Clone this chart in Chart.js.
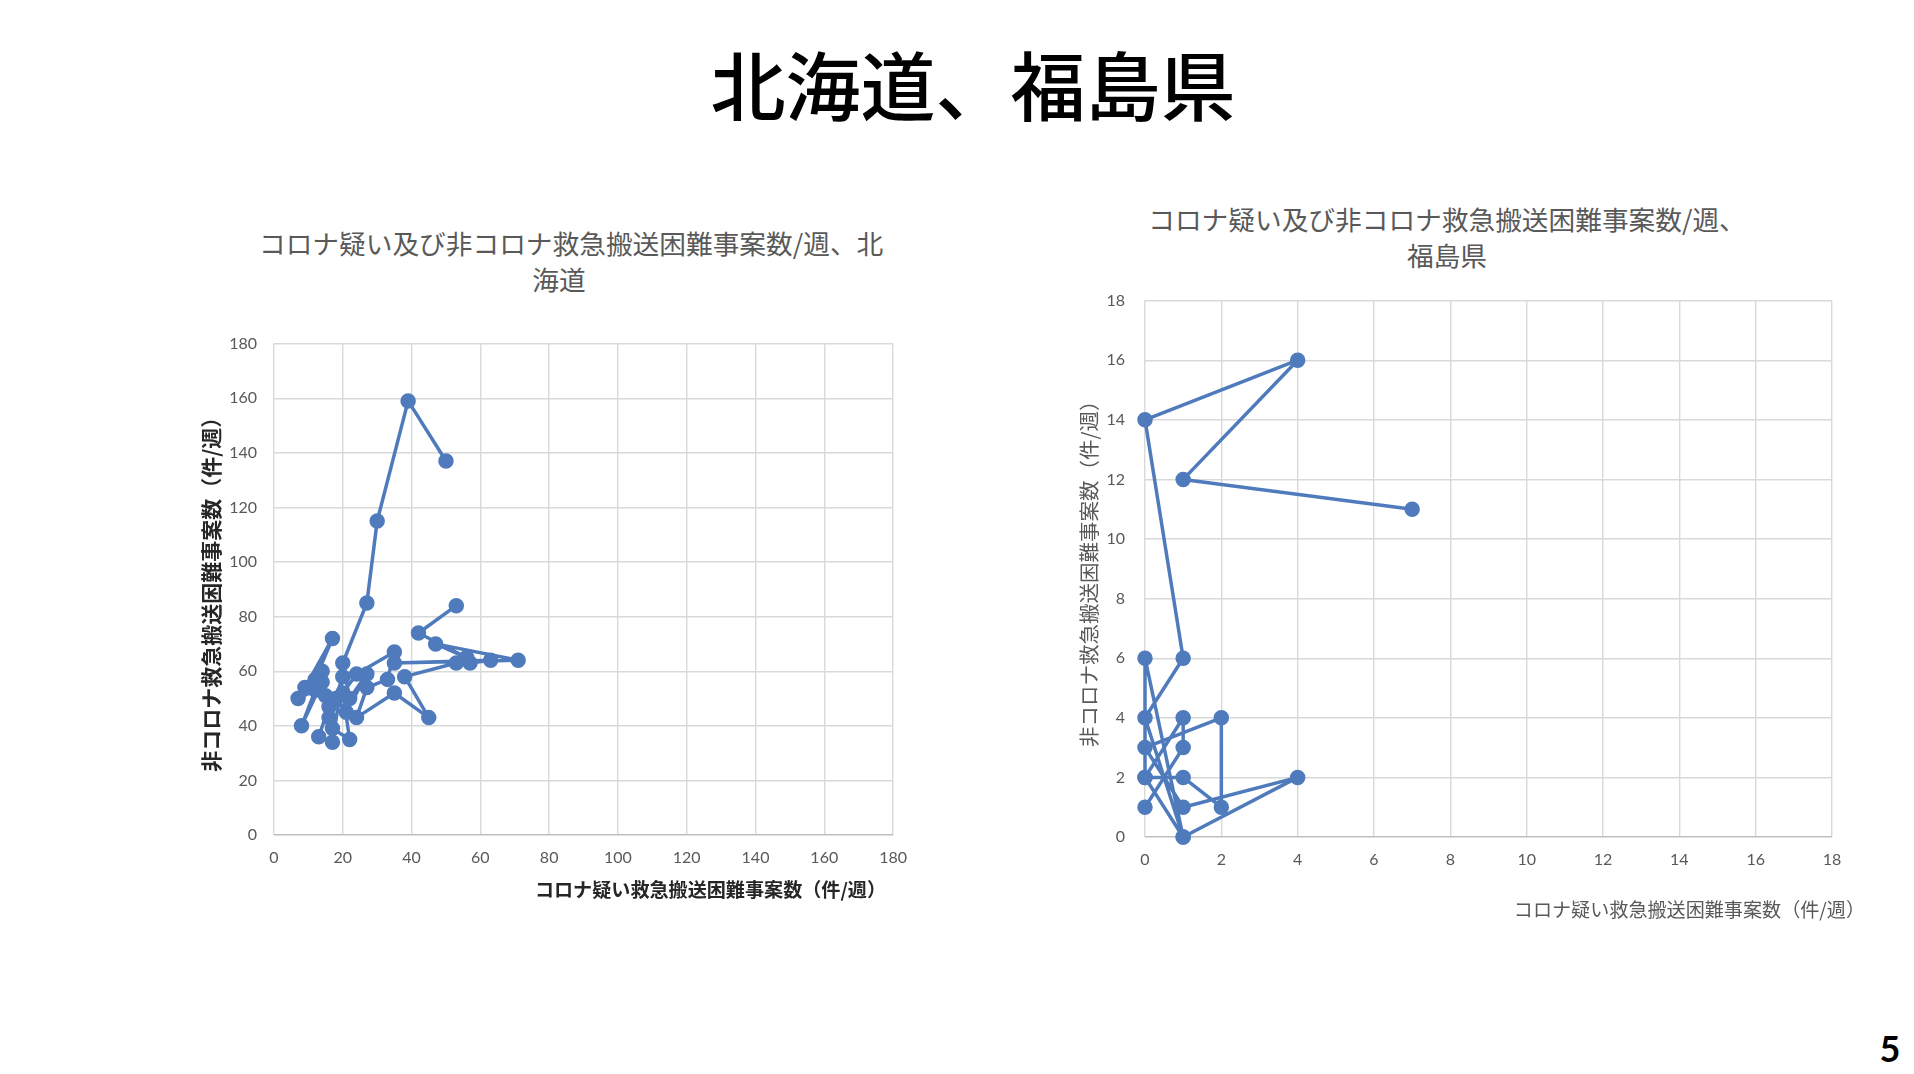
<!DOCTYPE html>
<html lang="ja">
<head>
<meta charset="utf-8">
<title>北海道、福島県</title>
<script src="https://cdn.jsdelivr.net/npm/chart.js@4.4.1/dist/chart.umd.min.js"></script>
<style>
  html, body { margin: 0; padding: 0; background: #fff; }
  body { width: 1914px; height: 1074px; position: relative; overflow: hidden;
         font-family: "Noto Sans CJK JP", "Noto Sans", sans-serif; }
  .abs { position: absolute; white-space: nowrap; }
  #pageTitle { left: 0; width: 1946px; top: 42px; text-align: center; font-size: 75px;
               line-height: 82px; font-weight: 500; color: #000; }
  .chartTitle { font-size: 26.7px; line-height: 36px; color: #595959; text-align: center; }
  #t1 { left: 259px; width: 600px; top: 225px; }
  #t2 { left: 1147px; width: 600px; top: 201px; }
  #xt1 { left: 0; width: 886px; top: 877px; text-align: right; font-size: 19.1px;
         line-height: 24px; font-weight: 700; color: #262626; }
  #xt2 { left: 0; width: 1865px; top: 897px; text-align: right; font-size: 19.1px;
         line-height: 24px; color: #595959; }
  #pageNo { left: 1868px; width: 44px; top: 1026px; text-align: center; font-family: Lato, "Noto Sans", sans-serif;
            font-size: 36px; line-height: 44px; font-weight: 700; color: #000; }
  .box { position: absolute; }
  #box1 { left: 150px; top: 317px; width: 770px; height: 573px; }
  #box2 { left: 1038px; top: 271px; width: 817px; height: 619px; }
</style>
</head>
<body>
<div id="pageTitle" class="abs">北海道、福島県</div>
<div id="t1" class="abs chartTitle">コロナ疑い及び非コロナ救急搬送困難事案数/週、北<br>海道</div>
<div id="t2" class="abs chartTitle">コロナ疑い及び非コロナ救急搬送困難事案数/週、<br>福島県</div>
<div class="box" id="box1"><canvas id="c1"></canvas></div>
<div class="box" id="box2"><canvas id="c2"></canvas></div>
<div id="xt1" class="abs">コロナ疑い救急搬送困難事案数（件/週）</div>
<div id="xt2" class="abs">コロナ疑い救急搬送困難事案数（件/週）</div>
<div id="pageNo" class="abs">5</div>

<script>
// 北海道: x = コロナ疑い, y = 非コロナ (件/週)
const hokkaidoX = [53, 42, 56, 47, 71, 35, 63, 57, 53, 38, 45, 35, 24, 27, 33, 35, 24, 20, 22, 17,
                   16, 20, 17, 13, 16, 14, 8, 12, 7, 9, 17, 12, 14, 15, 18, 21, 27, 22, 20, 27,
                   30, 39, 50];
const hokkaidoY = [84, 74, 65, 70, 64, 63, 64, 63, 63, 58, 43, 52, 43, 54, 57, 67, 59, 52, 35, 39,
                   43, 58, 34, 36, 47, 56, 40, 53, 50, 54, 72, 57, 60, 51, 50, 45, 59, 50, 63, 85,
                   115, 159, 137];

// 福島県
const fukushimaX = [0, 1, 1, 0, 1, 2, 2, 0, 1, 4, 1, 0, 0, 1, 0, 1, 0, 4, 1, 7];
const fukushimaY = [1, 3, 4, 2, 2, 1, 4, 3, 1, 2, 0, 2, 6, 0, 4, 6, 14, 16, 12, 11];

const hokkaidoTicks = [0, 20, 40, 60, 80, 100, 120, 140, 160, 180];
const fukushimaTicks = [0, 2, 4, 6, 8, 10, 12, 14, 16, 18];

const yTitle = '非コロナ救急搬送困難事案数（件/週）';
const lineBlue = '#4f7bbd';
const gridGrey = '#d9d9d9';
const tickGrey = '#595959';

function toPoints(xs, ys) {
  return xs.map((x, i) => ({ x: x, y: ys[i] }));
}

function makeChart(id, xs, ys, ticks, o) {
  const step = ticks[1] - ticks[0];
  const max = ticks[ticks.length - 1];
  new Chart(document.getElementById(id), {
    type: 'scatter',
    data: {
      datasets: [{
        data: toPoints(xs, ys),
        showLine: true,
        clip: false,
        borderColor: lineBlue,
        backgroundColor: lineBlue,
        borderWidth: 3.5,
        borderJoinStyle: 'round',
        borderCapStyle: 'round',
        pointRadius: 6,
        pointHoverRadius: 6,
        pointBackgroundColor: lineBlue,
        pointBorderColor: lineBlue,
        tension: 0
      }]
    },
    options: {
      responsive: true,
      maintainAspectRatio: false,
      animation: false,
      layout: { padding: { top: o.padTop, right: o.padRight, left: 0, bottom: 0 } },
      plugins: { legend: { display: false }, tooltip: { enabled: false }, title: { display: false } },
      scales: {
        x: {
          type: 'linear', min: 0, max: max,
          afterFit: s => { s.height = o.xHeight; },
          afterBuildTicks: s => { s.ticks = ticks.map(v => ({ value: v })); },
          grid: { color: gridGrey, lineWidth: 1.4, drawTicks: false },
          border: { display: false },
          ticks: { stepSize: step, padding: o.xTickPad, color: tickGrey,
                   font: { family: 'Lato, "Noto Sans", sans-serif', size: 16 } }
        },
        y: {
          type: 'linear', min: 0, max: max,
          afterFit: s => { s.width = o.yWidth; },
          afterBuildTicks: s => { s.ticks = ticks.map(v => ({ value: v })); },
          grid: { color: c => c.tick && c.tick.value === 0 ? '#bfbfbf' : gridGrey, lineWidth: 1.4, drawTicks: false },
          border: { display: false },
          ticks: { stepSize: step, padding: o.yTickPad, color: tickGrey,
                   font: { family: 'Lato, "Noto Sans", sans-serif', size: 16 } },
          title: {
            display: true, text: yTitle, color: o.yTitleColor,
            padding: { top: o.yTitlePad, bottom: 0 },
            font: { family: '"Noto Sans CJK JP", sans-serif', size: o.yTitleSize, weight: o.yTitleWeight, lineHeight: 1.2 }
          }
        }
      }
    }
  });
}

makeChart('c1', hokkaidoX, hokkaidoY, hokkaidoTicks, {
  padTop: 14, padRight: 15, xHeight: 55, yWidth: 124, xTickPad: 13, yTickPad: 17,
  yTitlePad: 48, yTitleSize: 21, yTitleWeight: 'bold', yTitleColor: '#262626'
});

makeChart('c2', fukushimaX, fukushimaY, fukushimaTicks, {
  padTop: 12, padRight: 23, xHeight: 53, yWidth: 107, xTickPad: 13, yTickPad: 20,
  yTitlePad: 39, yTitleSize: 20.5, yTitleWeight: 'normal', yTitleColor: '#595959'
});
</script>
</body>
</html>
